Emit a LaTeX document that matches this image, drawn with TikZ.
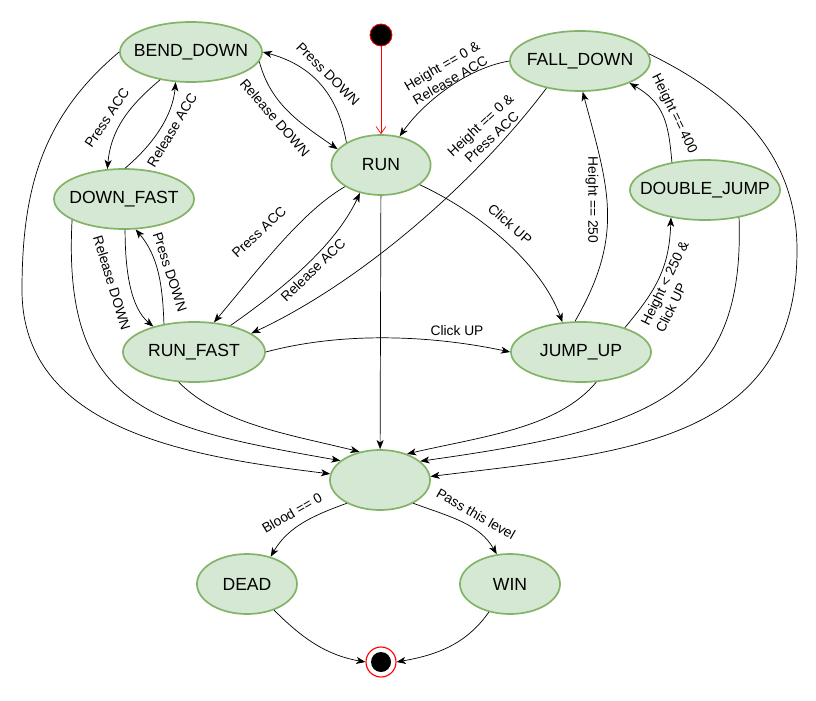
\documentclass[tikz,border=0pt]{standalone}
\usepackage{fontspec}
\setmainfont{Liberation Sans}
\usetikzlibrary{shapes.geometric,arrows.meta}
\definecolor{stfill}{HTML}{D5E8D4}
\definecolor{stline}{HTML}{82B366}
\definecolor{startred}{HTML}{FF0000}
\newcommand{\sttext}[1]{\makebox[0pt]{#1}}

\begin{document}
\begin{tikzpicture}[x=0.025cm,y=0.025cm,
  stnode/.style={ellipse,draw=stline,fill=stfill,line width=1.2pt,inner sep=0pt,minimum width=3.5cm,minimum height=1.5cm,font=\fontsize{12.5}{15}\selectfont},
  trans/.style={-{Stealth[length=6.5pt,width=5pt,inset=1.8pt]},line width=0.5pt},
  lbl/.style={font=\fontsize{9.8}{11.8}\selectfont,inner sep=0pt,align=center}]
\useasboundingbox (0,0) rectangle (816,700);
% States on the pixel grid of the sketch (y up); the empty one is the check state.
\node[circle,fill=black,draw=startred,line width=0.6pt,minimum size=0.55cm,inner sep=0pt] (init) at (381,665) {};
\node[stnode,minimum width=3.55cm] (BD) at (191,648) {\sttext{BEND\_DOWN}};
\node[stnode] (FD) at (580,639) {\sttext{FALL\_DOWN}};
\node[stnode,minimum width=2.48cm] (RUN) at (381,535) {\sttext{RUN}};
\node[stnode] (DF) at (124,501) {\sttext{DOWN\_FAST}};
\node[stnode,minimum width=3.75cm] (DJ) at (705,510) {\sttext{DOUBLE\_JUMP}};
\node[stnode,minimum width=3.55cm] (RF) at (194,348) {\sttext{RUN\_FAST}};
\node[stnode] (JU) at (581,348) {\sttext{JUMP\_UP}};
\node[stnode,minimum width=2.5cm] (over) at (380,220) {};
\node[stnode,minimum width=2.5cm] (DEAD) at (247,116) {\sttext{DEAD}};
\node[stnode,minimum width=2.5cm] (WIN) at (510,116) {\sttext{WIN}};
\node[circle,draw=startred,fill=white,line width=0.8pt,minimum size=0.75cm,inner sep=0pt,
  path picture={\fill[black] (path picture bounding box.center) circle (0.25cm);}] (final) at (381,38) {};
% start
\draw[startred,line width=0.5pt,-{Straight Barb[length=5pt,width=7pt]}] (init) -- (RUN);
% moves between the running states
\draw[trans] (BD.-8) .. controls +(-75:45) and +(145:45) .. (RUN.160);
\draw[trans] (RUN.147) .. controls +(100:50) and +(-15:50) .. (BD.0);
\draw[trans] (BD.-138) .. controls +(-140:40) and +(85:40) .. (DF.119);
\draw[trans] (DF.88) .. controls +(40:35) and +(-95:35) .. (BD.-117);
\draw[trans] (DF.-88) .. controls +(-90:40) and +(140:30) .. (RF.148);
\draw[trans] (RF.137) .. controls +(92:40) and +(-50:35) .. (DF.-69);
\draw[trans] (RUN.-149) .. controls +(-150:50) and +(50:70) .. (RF.56);
\draw[trans] (RF.36) .. controls +(35:60) and +(-115:60) .. (RUN.-127);
\draw[trans] (FD.180) .. controls +(-170:45) and +(55:40) .. (RUN.57);
\draw[trans] (FD.-141) .. controls +(-127:120) and +(25:120) .. (RF.18);
\draw[trans] (RUN.-27) .. controls +(-25:70) and +(110:60) .. (JU.122);
\draw[trans] (RF.0) .. controls +(15:80) and +(168:80) .. (JU.180);
\draw[trans] (JU.101) .. controls +(60:100) and +(-75:100) .. (FD.-85);
\draw[trans] (DJ.140) .. controls +(95:40) and +(-30:40) .. (FD.-24);
\draw[trans] (JU.29) .. controls +(50:50) and +(-92:50) .. (DJ.-141);
\node[lbl,rotate=-45] (lBdPress) at (328,626) {Press DOWN};
\node[lbl,rotate=-49] (lBdRelease) at (275,582) {Release DOWN};
\node[lbl,rotate=56] (lDfPress) at (107,582) {Press ACC};
\node[lbl,rotate=59] (lDfRelease) at (172,570) {Release ACC};
\node[lbl,rotate=-73] (lRfRelease) at (112,417) {Release DOWN};
\node[lbl,rotate=-72] (lRfPress) at (170,428) {Press DOWN};
\node[lbl,rotate=43] (lAccPress) at (259,468) {Press ACC};
\node[lbl,rotate=44] (lAccRelease) at (313,430) {Release ACC};
\node[lbl,rotate=30] (lLandRun) at (446,627) {Height == 0 \&\\Release ACC};
\node[lbl,rotate=43] (lLandFast) at (486,569) {Height == 0 \&\\Press ACC};
\node[lbl,rotate=-41] (lJumpRun) at (510,476) {Click UP};
\node[lbl] (lJumpFast) at (457,369) {Click UP};
\node[lbl,rotate=-90] (lTop) at (592,500) {Height == 250};
\node[lbl,rotate=-64] (lDjTop) at (674,586) {Height == 400};
\node[lbl,rotate=64,align=left] (lDouble) at (672,413) {Height < 250 \&\\Click UP};
% every state can end the level
\draw[trans] (RUN) -- (over);
\draw[trans] (BD.180) to[out=-140,in=90] (22,410) to[out=-90,in=173] (over.173);
\draw[trans] (DF.-158) .. controls +(-93:190) and +(170:190) .. (over.154);
\draw[trans] (RF.-117) .. controls +(-45:60) and +(166:70) .. (over.126);
\draw[trans] (JU.-63) .. controls +(-130:60) and +(13:80) .. (over.44);
\draw[trans] (DJ.-39) .. controls +(-88:180) and +(8:230) .. (over.25);
\draw[trans] (FD.6) to[out=-26,in=90] (797,450) to[out=-90,in=7,looseness=1.15] (over.4);
\draw[trans] (over.-145) .. controls +(-160:35) and +(60:35) .. (DEAD.49);
\draw[trans] (over.-35) .. controls +(-20:40) and +(120:35) .. (WIN.114);
\draw[trans] (DEAD.-44) .. controls +(-45:40) and +(170:40) .. (final.180);
\draw[trans] (WIN.-127) .. controls +(-125:40) and +(10:40) .. (final.0);
\node[lbl,rotate=30] (lDead) at (292,187) {Blood == 0};
\node[lbl,rotate=-30] (lWin) at (476,186) {Pass this level};
\end{tikzpicture}
\end{document}
